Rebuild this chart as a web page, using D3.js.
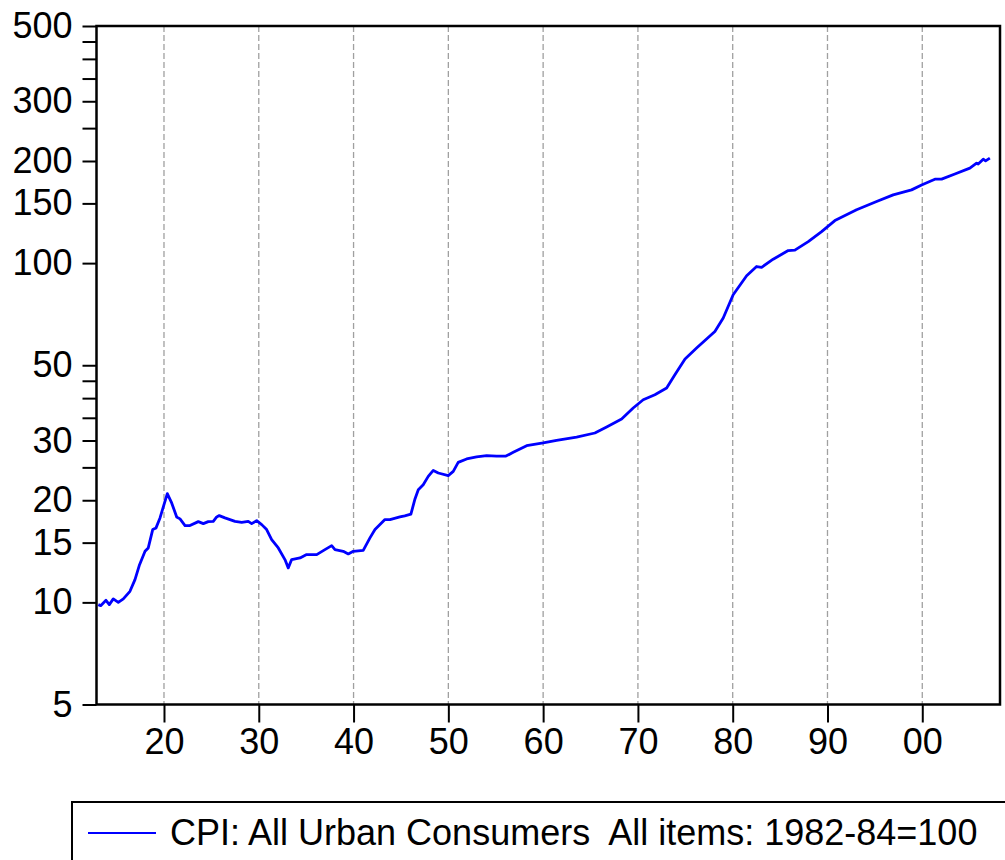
<!DOCTYPE html>
<html>
<head>
<meta charset="utf-8">
<script src="https://cdn.jsdelivr.net/npm/d3@7"></script>
<style>
  body { margin: 0; background: #fff; }
  svg { display: block; font-family: "Liberation Sans", Arial, sans-serif; }
</style>
</head>
<body>
<svg id="chart" width="1005" height="860"></svg>
<script>
// data (year as decimal, CPI 1982-84=100)
var years = [1913.07, 1913.32, 1913.88, 1914.23, 1914.65, 1915.18, 1915.71, 1916.41, 1916.94, 1917.39,
  1918.0, 1918.34, 1918.81, 1919.16, 1919.58, 1920.35, 1920.81, 1921.34, 1921.69, 1922.22,
  1922.74, 1923.62, 1924.15, 1924.67, 1925.2, 1925.56, 1925.83, 1926.43, 1926.96, 1927.49,
  1928.2, 1928.89, 1929.25, 1929.78, 1930.31, 1930.83, 1931.36, 1932.06, 1932.76, 1933.11,
  1933.47, 1934.35, 1935.05, 1936.11, 1936.98, 1937.69, 1938.04, 1938.91, 1939.44, 1939.97,
  1941.02, 1941.73, 1942.26, 1943.31, 1943.84, 1944.89, 1945.4, 1946.05, 1946.48, 1946.83,
  1947.35, 1947.88, 1948.41, 1948.94, 1949.99, 1950.52, 1951.04, 1951.93, 1952.98, 1954.04,
  1955.09, 1956.08, 1956.85, 1958.26, 1960.01, 1961.42, 1963.53, 1965.46, 1966.7, 1968.28,
  1969.5, 1970.56, 1971.79, 1973.03, 1973.9, 1974.97, 1976.19, 1978.12, 1979.0, 1980.05,
  1981.47, 1982.52, 1983.05, 1984.27, 1985.86, 1986.56, 1987.97, 1989.38, 1990.78, 1993.07,
  1995.18, 1996.93, 1998.87, 1999.93, 2001.33, 2002.04, 2003.44, 2005.02, 2005.73, 2005.9,
  2006.43, 2006.68, 2007.13];
var cpi = [9.85, 9.78, 10.14, 9.85, 10.24, 10.0, 10.24, 10.78, 11.67, 12.84,
  14.14, 14.47, 16.39, 16.58, 17.74, 20.92, 19.64, 17.86, 17.62, 16.84,
  16.84, 17.30, 17.07, 17.30, 17.33, 17.86, 18.02, 17.74, 17.54, 17.33,
  17.22, 17.33, 17.07, 17.42, 16.95, 16.39, 15.31, 14.47, 13.37, 12.64,
  13.37, 13.52, 13.83, 13.83, 14.31, 14.70, 14.31, 14.14, 13.89, 14.14,
  14.24, 15.49, 16.39, 17.54, 17.54, 17.86, 18.0, 18.2, 20.18, 21.49,
  22.23, 23.52, 24.49, 24.06, 23.63, 24.33, 25.86, 26.47, 26.83, 27.06,
  26.99, 26.99, 27.68, 28.96, 29.50, 30.03, 30.72, 31.57, 32.88, 34.71,
  37.4, 39.56, 40.94, 42.83, 46.88, 52.15, 56.18, 62.88, 68.87, 80.67,
  91.75, 97.72, 97.2, 102.7, 108.9, 109.2, 115.7, 123.9, 133.5, 143.6,
  151.9, 158.9, 164.4, 170.0, 176.8, 176.8, 183.2, 190.5, 197.1, 196.0,
  202.5, 200.1, 203.9];

var xTicks = [1920, 1930, 1940, 1950, 1960, 1970, 1980, 1990, 2000];
var yTicks = [5, 10, 15, 20, 25, 30, 35, 40, 45, 50, 100, 150, 200, 250, 300, 350, 400, 450, 500];
var yLabels = [5, 10, 15, 20, 30, 50, 100, 150, 200, 300, 500];
var legendText = "CPI: All Urban Consumers  All items: 1982-84=100";

var svg = d3.select("#chart");
// plot box edges
var plotLeft = 96.5, plotRight = 1000, plotTop = 26, plotBottom = 704.5;

var x = d3.scaleLinear().domain([1912.88, 2008.2]).range([plotLeft, plotRight]);
var y = d3.scaleLog().domain([5, 500]).range([plotBottom, plotTop]);

// dashed vertical grid
svg.append("g")
  .selectAll("line")
  .data(xTicks)
  .enter().append("line")
    .attr("x1", function(d) { return x(d); })
    .attr("x2", function(d) { return x(d); })
    .attr("y1", plotTop)
    .attr("y2", plotBottom)
    .attr("stroke", "#a0a0a0")
    .attr("stroke-width", 1.3)
    .attr("stroke-dasharray", "6,3");

// the series
var line = d3.line()
  .x(function(d, i) { return x(years[i]); })
  .y(function(d) { return y(d); });

svg.append("path")
  .datum(cpi)
  .attr("fill", "none")
  .attr("stroke", "#0000ff")
  .attr("stroke-width", 2.8)
  .attr("stroke-linejoin", "round")
  .attr("d", line);

// y axis
var yAxis = d3.axisLeft(y)
  .tickValues(yTicks)
  .tickSize(14)
  .tickPadding(10)
  .tickFormat(function(d) { return yLabels.indexOf(d) >= 0 ? d : ""; });

var gy = svg.append("g")
  .attr("transform", "translate(" + plotLeft + ",0)")
  .call(yAxis);

// x axis
var xAxis = d3.axisBottom(x)
  .tickValues(xTicks)
  .tickSize(18)
  .tickPadding(6)
  .tickFormat(function(d) { return d3.format("02d")(d % 100); });

var gx = svg.append("g")
  .attr("transform", "translate(0," + plotBottom + ")")
  .call(xAxis);

[gx, gy].forEach(function(g) {
  g.attr("font-size", null).attr("font-family", null);
  g.select(".domain").remove();
  g.selectAll(".tick line").attr("stroke", "#000").attr("stroke-width", 2);
  g.selectAll(".tick text")
    .attr("fill", "#000")
    .style("font-family", "'Liberation Sans', Arial, sans-serif")
    .style("font-size", "36px");
});

// frame
svg.append("rect")
  .attr("x", plotLeft)
  .attr("y", plotTop)
  .attr("width", plotRight - plotLeft)
  .attr("height", plotBottom - plotTop)
  .attr("fill", "none")
  .attr("stroke", "#000")
  .attr("stroke-width", 2.5);

// legend
var lg = svg.append("g");
lg.append("rect")
  .attr("x", 72)
  .attr("y", 802)
  .attr("width", 1000)
  .attr("height", 100)
  .attr("fill", "none")
  .attr("stroke", "#000")
  .attr("stroke-width", 2);

lg.append("line")
  .attr("x1", 88).attr("x2", 156)
  .attr("y1", 833).attr("y2", 833)
  .attr("stroke", "#0000ff")
  .attr("stroke-width", 2);

lg.append("text")
  .attr("x", 170)
  .attr("y", 845)
  .style("font-size", "36px")
  .style("white-space", "pre")
  .text(legendText);
</script>
</body>
</html>
